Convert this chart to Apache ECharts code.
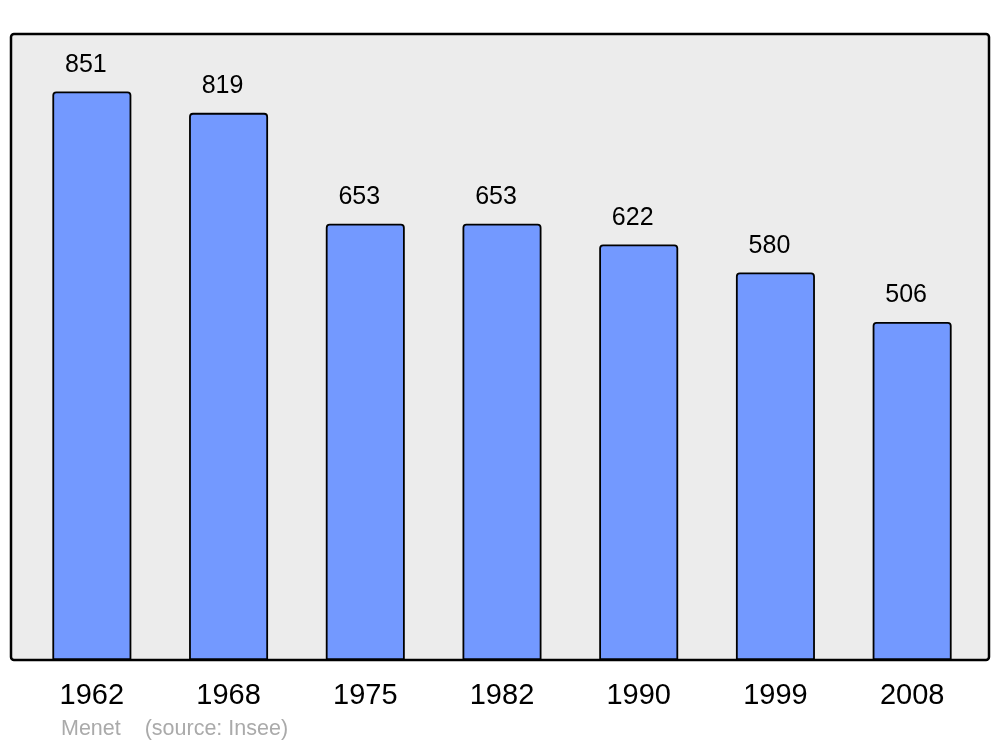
<!DOCTYPE html>
<html><head><meta charset="utf-8">
<script src="https://cdn.jsdelivr.net/npm/echarts@6/dist/echarts.min.js"></script>
<style>html,body{margin:0;padding:0;background:#fff}#c{width:1000px;height:747px}</style>
</head><body><div id="c"></div>
<script>
const years = ['1962','1968','1975','1982','1990','1999','2008'];
const population = [851, 819, 653, 653, 622, 580, 506];
const sourceText = 'Menet    (source: Insee)';

const chart = echarts.init(document.getElementById('c'), null, {renderer:'canvas'});
chart.setOption({
  animation:false,
  backgroundColor:'#ffffff',
  graphic:[
    {type:'rect', z:-10, shape:{x:11,y:34,width:978,height:626,r:3},
     style:{fill:'#ececec', stroke:'#000', lineWidth:2.5}},
    {type:'text', left:61, top:718, style:{text:sourceText, fill:'#aaaaaa', font:'21.5px "Liberation Sans", Arial, sans-serif'}}
  ],
  grid:{left:23.5, top:34, width:957, height:626, containLabel:false},
  xAxis:{type:'category', data:years,
    axisLine:{show:false}, axisTick:{show:false},
    axisLabel:{color:'#000', fontSize:29, fontFamily:'Liberation Sans', margin:21}},
  yAxis:{type:'value', min:0, max:937, show:false, splitLine:{show:false}},
  series:[{type:'bar', data:population, barWidth:79,
    itemStyle:{color:'#7399ff', borderColor:'#000', borderWidth:1.8, borderRadius:[3,3,0,0]},
    label:{show:true, position:'top', distance:14, color:'#000', fontSize:25, fontFamily:'Liberation Sans', offset:[-6,0]}
  }]
});
</script></body></html>
